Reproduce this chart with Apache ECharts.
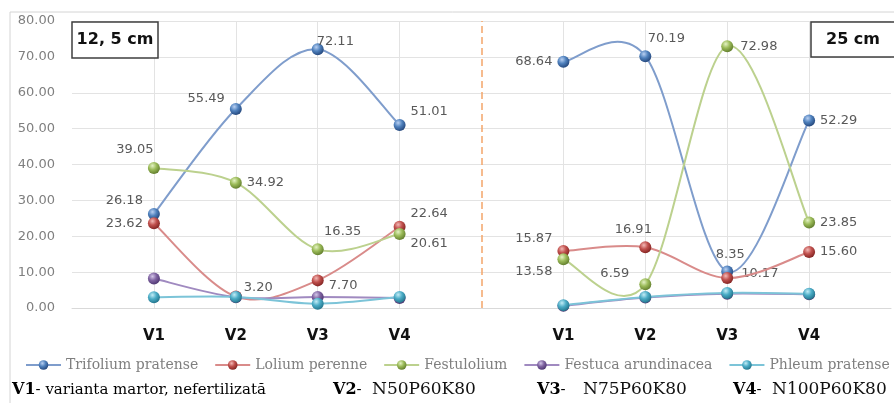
<!DOCTYPE html>
<html>
<head>
<meta charset="utf-8">
<script src="https://cdn.jsdelivr.net/npm/echarts@6/dist/echarts.min.js"></script>
<style>
  html, body { margin: 0; padding: 0; background: #fff; }
  #chart { width: 894px; height: 403px; }
</style>
</head>
<body>
<div id="chart"></div>
<script>
// Category slots: blank edge, four variants at 12,5 cm, blank divider, four variants at 25 cm, blank edge
const categories = ['', 'V1', 'V2', 'V3', 'V4', '', 'V1', 'V2', 'V3', 'V4', ''];
const yTicks = { min: 0, max: 80, interval: 10 };

const speciesNames = ['Trifolium pratense', 'Lolium perenne', 'Festulolium', 'Festuca arundinacea', 'Phleum pratense'];

// Values per species, row spacing 12,5 cm
const trifolium12 = [26.18, 55.49, 72.11, 51.01];
const lolium12 = [23.62, 3.20, 7.70, 22.64];
const festulolium12 = [39.05, 34.92, 16.35, 20.61];
const festuca12 = [8.2, 3.0, 3.1, 2.8];
const phleum12 = [3.0, 3.1, 1.2, 3.1];

// Values per species, row spacing 25 cm
const trifolium25 = [68.64, 70.19, 10.17, 52.29];
const lolium25 = [15.87, 16.91, 8.35, 15.60];
const festulolium25 = [13.58, 6.59, 72.98, 23.85];
const festuca25 = [0.6, 2.9, 4.0, 3.8];
const phleum25 = [0.8, 3.1, 4.2, 4.0];

const panelTitles = ['12, 5 cm', '25 cm'];
const footLabels = ['V1', 'V2', 'V3', 'V4'];
const footTexts = ['- varianta martor, nefertilizată', '-', '-', '-'];
const footCodes = ['', 'N50P60K80', 'N75P60K80', 'N100P60K80'];

// Where each value label sits next to its marker (keyed by category slot)
const labelPlacement = {
  0: { 1: ['left', [0, -13]], 2: ['left', [0, -10]], 3: ['right', [-12, -8]], 4: ['right', [0, -13]],
       6: ['left', [0, 0]], 7: ['top', [21, 0]], 8: ['right', [3, 2]], 9: ['right', [0, 0]] },
  1: { 1: ['left', [0, 0]], 2: ['right', [-3, -9]], 3: ['right', [0, 5]], 4: ['right', [0, -13]],
       6: ['left', [0, -12]], 7: ['top', [-12, 0]], 8: ['top', [3, -6]], 9: ['right', [0, 0]] },
  2: { 1: ['top', [-19, -1]], 2: ['right', [0, 0]], 3: ['top', [25, 0]], 4: ['right', [0, 10]],
       6: ['left', [0, 12]], 7: ['left', [-5, -11]], 8: ['right', [2, 0]], 9: ['right', [0, 0]] }
};

// Sphere colours and line colour per species
const palette = [
  { hi: '#b9d0f2', body: '#4f81bd', rim: '#1f3f73', line: '#7f9dcc' },
  { hi: '#f3b9b6', body: '#c0504d', rim: '#7a1e1c', line: '#d98b8a' },
  { hi: '#e4f2c4', body: '#9bbb59', rim: '#5a7527', line: '#bcd18e' },
  { hi: '#d3c6e8', body: '#8064a2', rim: '#46306a', line: '#a08ac0' },
  { hi: '#c2ecf6', body: '#4bacc6', rim: '#1d6d84', line: '#7cc4d8' }
];

const panels = [
  [trifolium12, trifolium25],
  [lolium12, lolium25],
  [festulolium12, festulolium25],
  [festuca12, festuca25],
  [phleum12, phleum25]
];
// first category slot of each panel
const panelStart = [1, 6];

function sphere(c) {
  return {
    type: 'radial', x: 0.38, y: 0.32, r: 0.75,
    colorStops: [
      { offset: 0, color: c.hi },
      { offset: 0.45, color: c.body },
      { offset: 1, color: c.rim }
    ]
  };
}

function buildData(left, right, places) {
  const vals = [null].concat(left, [null], right, [null]);
  return vals.map((v, i) => {
    if (v === null) return null;
    const p = places && places[i];
    if (!p) return v;
    return { value: v, label: { show: true, position: p[0], offset: p[1] } };
  });
}

// Cardinal spline through the projected points (tangent = neighbour difference / 6)
function splinePath(pts) {
  let d = 'M' + pts[0][0] + ' ' + pts[0][1];
  for (let i = 0; i < pts.length - 1; i++) {
    const p0 = pts[i - 1] || pts[i];
    const p1 = pts[i];
    const p2 = pts[i + 1];
    const p3 = pts[i + 2] || pts[i + 1];
    const c1x = p1[0] + (p2[0] - p0[0]) / 6;
    const c1y = p1[1] + (p2[1] - p0[1]) / 6;
    const c2x = p2[0] - (p3[0] - p1[0]) / 6;
    const c2y = p2[1] - (p3[1] - p1[1]) / 6;
    d += ' C' + c1x + ' ' + c1y + ' ' + c2x + ' ' + c2y + ' ' + p2[0] + ' ' + p2[1];
  }
  return d;
}

const series = [];
speciesNames.forEach((name, k) => {
  const c = palette[k];
  // smoothed curve for each panel
  series.push({
    type: 'custom',
    coordinateSystem: 'cartesian2d',
    silent: true,
    z: 2 + k * 2,
    data: [[0], [1]],
    renderItem: (params, api) => {
      const panel = api.value(0);
      const vals = panels[k][panel];
      const pts = vals.map((v, j) => api.coord([panelStart[panel] + j, v]));
      return {
        type: 'path',
        shape: { pathData: splinePath(pts) },
        style: { fill: 'none', stroke: c.line, lineWidth: 2, lineJoin: 'round' }
      };
    }
  });
  // markers and value labels
  const s = {
    name: name,
    type: 'line',
    connectNulls: false,
    symbol: 'circle',
    symbolSize: 12,
    data: buildData(panels[k][0], panels[k][1], labelPlacement[k]),
    lineStyle: { color: c.line, width: 2, opacity: 0 },
    itemStyle: { color: sphere(c), borderWidth: 0 },
    label: {
      show: false,
      color: '#595959',
      fontFamily: 'DejaVu Sans',
      fontSize: 13,
      formatter: p => Number(p.value).toFixed(2)
    },
    emphasis: { disabled: true },
    z: 3 + k * 2
  };
  if (k === 0) {
    s.markLine = {
      silent: true,
      symbol: 'none',
      label: { show: false },
      lineStyle: { color: '#f4a56a', type: [7, 4], width: 1.5, opacity: 1 },
      data: [{ xAxis: 5 }],
      z: 1
    };
  }
  series.push(s);
});

const chart = echarts.init(document.getElementById('chart'), null, { renderer: 'canvas' });

const graphics = [
  { type: 'rect', shape: { x: 10, y: 12, width: 900, height: 420 }, style: { fill: 'none', stroke: '#d4d4d4', lineWidth: 1 }, z: 0 },
  { type: 'rect', shape: { x: 72, y: 22, width: 86, height: 36 }, style: { fill: '#fff', stroke: '#3f3f3f', lineWidth: 1.5 }, z: 10 },
  { type: 'text', x: 115, y: 40, style: { text: panelTitles[0], font: 'bold 16px "DejaVu Sans"', fill: '#111', textAlign: 'center', textVerticalAlign: 'middle' }, z: 11 },
  { type: 'rect', shape: { x: 811, y: 22, width: 86, height: 35 }, style: { fill: '#fff', stroke: '#3f3f3f', lineWidth: 1.5 }, z: 10 },
  { type: 'text', x: 853, y: 40, style: { text: panelTitles[1], font: 'bold 16px "DejaVu Sans"', fill: '#111', textAlign: 'center', textVerticalAlign: 'middle' }, z: 11 }
];

// Footnote row explaining the fertilisation variants
const footX = [12, 333, 537, 733];
const codeX = [0, 372, 583, 772];
footLabels.forEach((lab, i) => {
  graphics.push({
    type: 'text', x: footX[i], y: 390,
    style: {
      text: '{b|' + lab + '}{r|' + footTexts[i] + '}',
      textVerticalAlign: 'middle',
      rich: {
        b: { fontFamily: 'DejaVu Serif', fontWeight: 'bold', fontSize: 16, color: '#111' },
        r: { fontFamily: 'DejaVu Serif', fontSize: 15, color: '#111' }
      }
    },
    z: 10
  });
  if (footCodes[i]) {
    graphics.push({
      type: 'text', x: codeX[i], y: 390,
      style: { text: footCodes[i], font: '17px "DejaVu Serif"', fill: '#111', textVerticalAlign: 'middle' },
      z: 10
    });
  }
});

chart.setOption({
  animation: false,
  backgroundColor: '#fff',
  grid: { left: 72, right: -3, top: 21, bottom: 95, containLabel: false },
  legend: {
    left: 20,
    top: 353,
    width: 1100,
    itemWidth: 35,
    itemHeight: 12,
    itemGap: 16,
    textStyle: { fontFamily: 'DejaVu Serif', fontSize: 14, color: '#7f7f7f' },
    data: speciesNames.map((n, k) => ({ name: n, lineStyle: { color: palette[k].line, width: 2, opacity: 1 } }))
  },
  xAxis: {
    type: 'category',
    data: categories,
    boundaryGap: false,
    axisLine: { show: true, lineStyle: { color: '#d9d9d9' } },
    axisTick: { show: false },
    axisLabel: { interval: 0, margin: 21, fontFamily: 'DejaVu Sans', fontWeight: 'bold', fontSize: 15, color: '#111' },
    splitLine: {
      show: true,
      interval: (index) => index !== 0 && index !== 5 && index !== 10,
      lineStyle: { color: '#e3e3e3', width: 1 }
    }
  },
  yAxis: {
    type: 'value',
    min: yTicks.min,
    max: yTicks.max,
    interval: yTicks.interval,
    axisLine: { show: false },
    axisTick: { show: false },
    axisLabel: { margin: 17, fontFamily: 'DejaVu Sans', fontSize: 13, color: '#7f7f7f', formatter: v => v.toFixed(2) },
    splitLine: { lineStyle: { color: '#e3e3e3', width: 1 } }
  },
  series: series,
  graphic: graphics
});
</script>
</body>
</html>
